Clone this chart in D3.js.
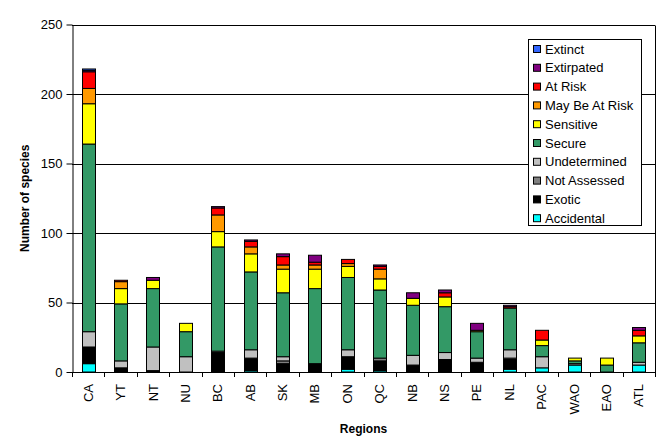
<!DOCTYPE html>
<html>
<head>
<meta charset="utf-8">
<script src="https://cdn.jsdelivr.net/npm/d3@7"></script>
<style>
  html, body { margin: 0; padding: 0; background: #fff; }
  svg { display: block; font-family: "Liberation Sans", Arial, sans-serif; }
</style>
</head>
<body>
<svg id="chart" width="665" height="444"></svg>
<script>
// ---- Data ----
const regions = ["CA","YT","NT","NU","BC","AB","SK","MB","ON","QC","NB","NS","PE","NL","PAC","WAO","EAO","ATL"];
const seriesNames = ["Accidental","Exotic","Not Assessed","Undetermined","Secure","Sensitive","May Be At Risk","At Risk","Extirpated","Extinct"];
const accidental   = [6, 0, 0, 0, 0, 1, 0, 0, 2, 1, 0, 0, 0, 2, 3, 5, 0, 5];
const exotic       = [12, 3, 1, 0, 14, 9, 6, 6, 9, 7, 5, 9, 7, 7, 0, 0, 0, 0];
const notAssessed  = [0, 0, 0, 0, 0, 0, 2, 0, 0, 2, 0, 0, 0, 1, 0, 0, 0, 0];
const undetermined = [11, 5, 17, 11, 1, 6, 3, 0, 5, 0, 7, 5, 3, 6, 8, 1, 0, 2];
const secure       = [135, 41, 42, 18, 75, 56, 46, 54, 52, 49, 36, 33, 19, 30, 8, 2, 5, 14];
const sensitive    = [29, 11, 6, 6, 11, 13, 17, 14, 8, 8, 5, 7, 1, 0, 4, 2, 5, 5];
const mayBeAtRisk  = [11, 5, 0, 0, 12, 5, 3, 3, 2, 7, 0, 0, 0, 0, 0, 0, 0, 0];
const atRisk       = [12, 1, 0, 0, 5, 4, 6, 2, 3, 2, 0, 3, 0, 1, 7, 0, 0, 4];
const extirpated   = [1, 0, 2, 0, 1, 1, 2, 5, 0, 1, 4, 2, 5, 1, 0, 0, 0, 2];
const extinct      = [1, 0, 0, 0, 0, 0, 0, 0, 0, 0, 0, 0, 0, 0, 0, 0, 0, 0];
const yTicks = [0, 50, 100, 150, 200, 250];
const colors = ["#00FFFF","#000000","#808080","#C0C0C0","#339966","#FFFF00","#FF9900","#FF0000","#800080","#3366FF"];

const seriesValues = [accidental, exotic, notAssessed, undetermined, secure, sensitive, mayBeAtRisk, atRisk, extirpated, extinct];
const table = regions.map((r, i) => {
  const row = { region: r };
  seriesNames.forEach((s, k) => row[s] = seriesValues[k][i]);
  return row;
});

// ---- Layout ----
const svg = d3.select("#chart");
const mLeft = 72, mRight = 655, mTop = 24.5, mBottom = 372;

const x = d3.scaleBand().domain(regions).range([mLeft, mRight]).paddingInner(0.6).paddingOuter(0.3);
const y = d3.scaleLinear().domain([0, 250]).range([mBottom, mTop]);
const color = d3.scaleOrdinal().domain(seriesNames).range(colors);

// Gridlines
svg.append("g").selectAll("line").data(yTicks.filter(d => d > 0)).join("line")
  .attr("x1", mLeft).attr("x2", mRight)
  .attr("y1", d => Math.round(y(d)) + 0.5).attr("y2", d => Math.round(y(d)) + 0.5)
  .attr("stroke", "#000").attr("stroke-width", 1);

// Right border
svg.append("line").attr("x1", mRight + 0.5).attr("x2", mRight + 0.5)
  .attr("y1", Math.round(y(250)) + 0.5).attr("y2", mBottom + 0.5)
  .attr("stroke", "#000");

// Bars
const stacked = d3.stack().keys(seriesNames)(table);
svg.append("g").selectAll("g").data(stacked).join("g")
  .attr("fill", d => color(d.key))
  .selectAll("rect").data(d => d.filter(p => p[1] - p[0] > 0)).join("rect")
  .attr("x", d => Math.round(x(d.data.region)) + 0.5)
  .attr("width", Math.round(x.bandwidth()))
  .attr("y", d => y(d[1]))
  .attr("height", d => y(d[0]) - y(d[1]))
  .attr("stroke", "#000").attr("stroke-width", 1);

// Y axis
const yAxis = svg.append("g").attr("transform", `translate(${mLeft + 0.5},0)`)
  .call(d3.axisLeft(y).tickValues(yTicks).tickSize(6).tickSizeOuter(0).tickPadding(4));
yAxis.select(".domain").attr("stroke", "#000");
yAxis.selectAll(".tick line").attr("stroke", "#000");
yAxis.selectAll(".tick text").attr("font-size", 13).attr("fill", "#000")
  .attr("font-family", "'Liberation Sans', Arial, sans-serif");

// X axis line and ticks at category boundaries
svg.append("line").attr("x1", mLeft).attr("x2", mRight + 1)
  .attr("y1", mBottom + 0.5).attr("y2", mBottom + 0.5).attr("stroke", "#000");
const boundaries = regions.map(r => x(r) - x.step() * 0.3).concat([mRight]);
svg.append("g").selectAll("line").data(boundaries).join("line")
  .attr("x1", d => Math.round(d) + 0.5).attr("x2", d => Math.round(d) + 0.5)
  .attr("y1", mBottom).attr("y2", mBottom + 5).attr("stroke", "#000");

// X labels
svg.append("g").selectAll("text").data(regions).join("text")
  .attr("transform", d => `translate(${x(d) + x.bandwidth() / 2},384) rotate(-90)`)
  .attr("text-anchor", "end").attr("dy", "0.35em")
  .attr("font-size", 13).attr("fill", "#000")
  .text(d => d);

// Axis titles
svg.append("text").attr("x", (mLeft + mRight) / 2).attr("y", 433)
  .attr("text-anchor", "middle").attr("font-size", 12).attr("font-weight", "bold")
  .text("Regions");
svg.append("text").attr("transform", `translate(29,${(mTop + mBottom) / 2}) rotate(-90)`)
  .attr("text-anchor", "middle").attr("font-size", 12).attr("font-weight", "bold")
  .text("Number of species");

// Legend
const legendItems = seriesNames.slice().reverse();
const lg = svg.append("g");
lg.append("rect").attr("x", 528.5).attr("y", 39.5).attr("width", 113).attr("height", 186)
  .attr("fill", "#fff").attr("stroke", "#000");
const li = lg.selectAll("g").data(legendItems).join("g")
  .attr("transform", (d, i) => `translate(0,${49 + i * 18.8})`);
li.append("rect").attr("x", 533.5).attr("y", -3.5).attr("width", 7).attr("height", 7)
  .attr("fill", d => color(d)).attr("stroke", "#000");
li.append("text").attr("x", 545).attr("y", 0).attr("dy", "0.35em")
  .attr("font-size", 13).attr("fill", "#000").text(d => d);
</script>
</body>
</html>
